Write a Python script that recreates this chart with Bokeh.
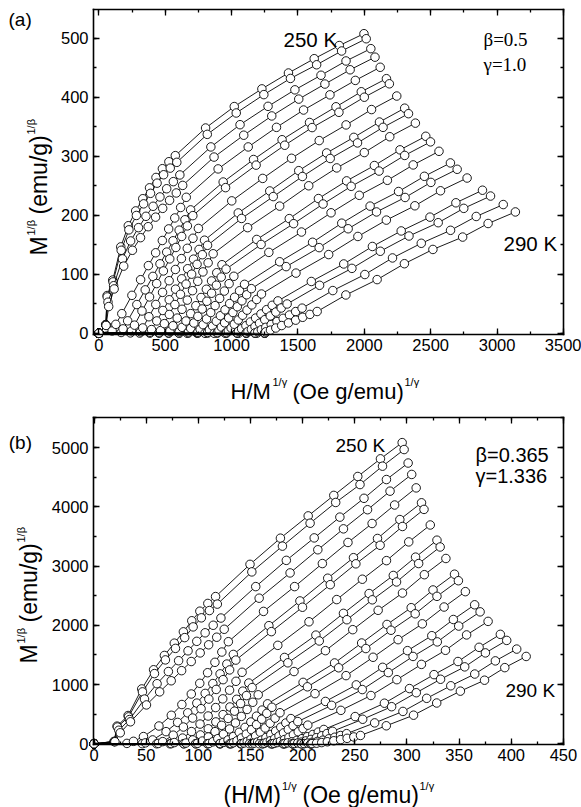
from math import pi
from bokeh.plotting import figure
from bokeh.models import Label, LinearAxis, SingleIntervalTicker, Range1d
from bokeh.layouts import column
from bokeh.embed import file_html
from bokeh.resources import INLINE
from bokeh.core.properties import value

# ---------------- data: magnetization M (emu/g) at each applied field ----------------
field_oe = [0, 200, 500, 1000, 2000, 3000, 4000, 5000, 6000, 7000, 8000, 9000,
            10000, 15000, 20000, 25000, 30000, 35000, 40000, 45000]

temperatures_k = [250, 252, 254, 256, 258, 260, 262, 264, 266, 268, 270,
                  272, 274, 276, 278, 280, 282, 284, 286, 288, 290]

m_250K = [0, 3.85, 8.00, 9.50, 12.10, 13.50, 14.40, 15.10, 15.70, 16.25, 16.70, 17.05, 17.35, 18.65, 19.60, 20.35, 21.00, 21.57, 22.08, 22.53]
m_252K = [0, 3.80, 7.85, 9.33, 11.86, 13.24, 14.13, 14.81, 15.40, 15.95, 16.39, 16.73, 17.02, 18.36, 19.32, 20.11, 20.78, 21.33, 21.87, 22.34]
m_254K = [0, 3.75, 7.26, 8.98, 11.23, 12.51, 13.38, 14.08, 14.67, 15.20, 15.65, 16.03, 16.38, 17.77, 18.80, 19.61, 20.31, 20.91, 21.48, 21.96]
m_256K = [0, 3.65, 6.73, 8.67, 10.67, 11.86, 12.73, 13.44, 14.03, 14.55, 15.01, 15.42, 15.83, 17.28, 18.32, 19.19, 19.92, 20.55, 21.13, 21.63]
m_258K = [0, 1.99, 3.90, 5.77, 8.02, 9.53, 10.71, 11.68, 12.54, 13.30, 13.98, 14.60, 15.18, 16.69, 17.77, 18.68, 19.45, 20.10, 20.70, 21.23]
m_260K = [0, 1.19, 2.74, 4.60, 6.98, 8.58, 9.82, 10.85, 11.73, 12.52, 13.22, 13.87, 14.46, 16.01, 17.16, 18.11, 18.90, 19.59, 20.23, 20.77]
m_262K = [0, 0.84, 2.03, 3.72, 6.15, 7.85, 9.18, 10.28, 11.23, 12.06, 12.81, 13.49, 14.12, 15.71, 16.88, 17.85, 18.67, 19.35, 20.00, 20.56]
m_264K = [0, 0.65, 1.59, 3.02, 5.30, 6.99, 8.33, 9.44, 10.40, 11.25, 12.00, 12.69, 13.33, 14.98, 16.20, 17.22, 18.07, 18.79, 19.47, 20.05]
m_266K = [0, 0.52, 1.30, 2.52, 4.58, 6.22, 7.54, 8.65, 9.61, 10.46, 11.21, 11.92, 12.56, 14.28, 15.53, 16.60, 17.48, 18.22, 18.92, 19.53]
m_268K = [0, 0.44, 1.10, 2.15, 4.05, 5.65, 6.98, 8.13, 9.13, 10.01, 10.81, 11.54, 12.21, 13.95, 15.22, 16.30, 17.21, 17.96, 18.68, 19.29]
m_270K = [0, 0.38, 0.95, 1.87, 3.58, 5.08, 6.38, 7.50, 8.50, 9.39, 10.20, 10.93, 11.61, 13.38, 14.68, 15.81, 16.74, 17.50, 18.25, 18.87]
m_272K = [0, 0.33, 0.83, 1.65, 3.19, 4.57, 5.78, 6.84, 7.79, 8.64, 9.42, 10.13, 10.78, 12.61, 13.94, 15.11, 16.07, 16.86, 17.63, 18.27]
m_274K = [0, 0.30, 0.74, 1.48, 2.89, 4.19, 5.36, 6.42, 7.37, 8.24, 9.03, 9.76, 10.43, 12.27, 13.63, 14.80, 15.78, 16.58, 17.36, 18.01]
m_276K = [0, 0.27, 0.67, 1.34, 2.62, 3.82, 4.93, 5.93, 6.85, 7.69, 8.46, 9.17, 9.83, 11.71, 13.10, 14.29, 15.29, 16.10, 16.89, 17.56]
m_278K = [0, 0.25, 0.61, 1.22, 2.40, 3.50, 4.52, 5.46, 6.31, 7.10, 7.82, 8.49, 9.11, 11.01, 12.42, 13.66, 14.68, 15.50, 16.31, 16.99]
m_280K = [0, 0.23, 0.56, 1.12, 2.21, 3.25, 4.22, 5.11, 5.94, 6.71, 7.42, 8.08, 8.70, 10.63, 12.05, 13.31, 14.34, 15.17, 15.99, 16.67]
m_282K = [0, 0.21, 0.52, 1.04, 2.05, 3.01, 3.92, 4.76, 5.54, 6.27, 6.94, 7.57, 8.16, 10.10, 11.55, 12.81, 13.85, 14.70, 15.54, 16.22]
m_284K = [0, 0.19, 0.48, 0.96, 1.90, 2.79, 3.61, 4.38, 5.08, 5.73, 6.33, 6.89, 7.41, 9.37, 10.84, 12.13, 13.17, 14.03, 14.87, 15.57]
m_286K = [0, 0.18, 0.45, 0.90, 1.78, 2.61, 3.40, 4.13, 4.80, 5.42, 6.00, 6.55, 7.05, 9.02, 10.49, 11.79, 12.84, 13.69, 14.55, 15.25]
m_288K = [0, 0.17, 0.42, 0.85, 1.67, 2.45, 3.18, 3.85, 4.47, 5.04, 5.57, 6.07, 6.53, 8.51, 9.98, 11.30, 12.35, 13.21, 14.07, 14.77]
m_290K = [0, 0.16, 0.40, 0.80, 1.59, 2.32, 3.00, 3.63, 4.20, 4.72, 5.21, 5.66, 6.08, 8.06, 9.54, 10.86, 11.92, 12.77, 13.64, 14.34]

magnetization = [m_250K, m_252K, m_254K, m_256K, m_258K, m_260K, m_262K,
                 m_264K, m_266K, m_268K, m_270K, m_272K, m_274K, m_276K,
                 m_278K, m_280K, m_282K, m_284K, m_286K, m_288K, m_290K]

# critical exponents used for each panel
beta_a, gamma_a = 0.5, 1.0
beta_b, gamma_b = 0.365, 1.336

# axis boxes (data limits of the drawn frame) and tick spacing
box_a = dict(x=(-40, 3500.5), y=(-2, 548.6), xstep=500, ystep=100)
box_b = dict(x=(-0.5, 450.05), y=(-12, 5508), xstep=50, ystep=1000)

SANS = "Liberation Sans"
SERIF = "Liberation Serif"


def transform(h_list, m_list, beta, gamma):
    xs, ys = [], []
    for h, m in zip(h_list, m_list):
        if h == 0 or m == 0:
            xs.append(0.0)
            ys.append(0.0)
        else:
            xs.append((h / m) ** (1.0 / gamma))
            ys.append(m ** (1.0 / beta))
    return xs, ys


def add_axis(p, side, loc, bounds, step, labels):
    ax = LinearAxis(fixed_location=loc, bounds=bounds,
                    ticker=SingleIntervalTicker(interval=step, num_minor_ticks=2))
    ax.axis_line_color = "black"
    ax.axis_line_width = 1.6
    ax.axis_line_cap = "square"
    ax.major_tick_line_color = "black"
    ax.major_tick_line_width = 1.3
    ax.minor_tick_line_color = "black"
    ax.minor_tick_line_width = 1.3
    ax.major_tick_in = 6
    ax.major_tick_out = 0
    ax.minor_tick_in = 3
    ax.minor_tick_out = 0
    ax.axis_label = None
    ax.major_label_text_font = SANS
    if labels:
        ax.major_label_text_font_size = "16.5px"
        ax.major_label_text_color = "black"
        ax.major_label_standoff = 5
    else:
        ax.major_label_text_font_size = "1px"
        ax.major_label_text_color = None
        ax.major_label_standoff = 0
    p.add_layout(ax, side)


def make_panel(width, height, xr, yr, box, beta, gamma):
    p = figure(width=width, height=height,
               x_range=Range1d(*xr), y_range=Range1d(*yr),
               x_axis_location=None, y_axis_location=None,
               output_backend="svg", toolbar_location=None,
               min_border=0, min_border_left=0, min_border_right=0,
               min_border_top=0, min_border_bottom=0)
    p.background_fill_color = "white"
    p.border_fill_color = "white"
    p.outline_line_color = None
    p.xgrid.visible = False
    p.ygrid.visible = False
    (x0, x1), (y0, y1) = box["x"], box["y"]
    add_axis(p, "below", y0, (x0, x1), box["xstep"], True)
    add_axis(p, "above", y1, (x0, x1), box["xstep"], False)
    add_axis(p, "left", x0, (y0, y1), box["ystep"], True)
    add_axis(p, "right", x1, (y0, y1), box["ystep"], False)
    for m_list in magnetization:
        xs, ys = transform(field_oe, m_list, beta, gamma)
        p.line(xs, ys, line_color="black", line_width=0.9)
        p.scatter(xs, ys, marker="circle", size=8.5, fill_color="white",
                  line_color="black", line_width=0.9)
    return p


def add_text(p, x, y, text, size, font=SANS, angle=0.0):
    p.add_layout(Label(x=x, y=y, text=text, text_font=font,
                       text_font_size=size, text_color="black",
                       text_align="left", text_baseline="alphabetic",
                       angle=angle, angle_units="rad"))


# ---------------- panel (a) ----------------
pa = make_panel(581, 406, (-740.6, 3636.1), (-123.98, 563.85), box_a, beta_a, gamma_a)

add_text(pa, -680.3, 532.5, "(a)", "19px")
add_text(pa, 1391.2, 497.8, "250 K", "20.5px")
add_text(pa, 3048.5, 152.2, "290 K", "20.5px")
add_text(pa, 2897.8, 498.6, "\u03b2=0.5", "19px", SERIF)
add_text(pa, 2897.8, 454.6, "\u03b3=1.0", "19px", SERIF)
# y label
add_text(pa, -454.3, 131.8, "M", "23px", angle=pi / 2)
add_text(pa, -514.6, 165.7, "1/\u03b2", "11px", angle=pi / 2)
add_text(pa, -454.3, 201.3, "(emu/g)", "23px", angle=pi / 2)
add_text(pa, -514.6, 336.8, "1/\u03b2", "11px", angle=pi / 2)
# x label
add_text(pa, 992.0, -98.56, "H/M", "22px")
add_text(pa, 1308.4, -83.32, "1/\u03b3", "11px")
add_text(pa, 1459.0, -98.56, "(Oe g/emu)", "22px")
add_text(pa, 2302.7, -83.32, "1/\u03b3", "11px")

# ---------------- panel (b) ----------------
pb = make_panel(581, 401, (-89.65, 467.3), (-1075.5, 5693.7), box_b, beta_b, gamma_b)

add_text(pb, -81.7, 5094.4, "(b)", "19px")
add_text(pb, 231.5, 5035.3, "250 K", "19px")
add_text(pb, 394.4, 899.5, "290 K", "19px")
add_text(pb, 365.7, 4883.4, "\u03b2=0.365", "20px")
add_text(pb, 365.7, 4520.5, "\u03b3=1.336", "20px")
# y label
add_text(pb, -62.3, 1355.3, "M", "23px", angle=pi / 2)
add_text(pb, -70.0, 1693.0, "1/\u03b2", "11px", angle=pi / 2)
add_text(pb, -62.3, 2047.4, "(emu/g)", "23px", angle=pi / 2)
add_text(pb, -70.0, 3397.9, "1/\u03b2", "11px", angle=pi / 2)
# x label
add_text(pb, 124.1, -856.1, "(H/M)", "23px")
add_text(pb, 180.2, -704.2, "1/\u03b3", "11px")
add_text(pb, 199.9, -856.1, "(Oe g/emu)", "23px")
add_text(pb, 312.0, -704.2, "1/\u03b3", "11px")

layout = column(pa, pb)
open("out.html", "w").write(file_html(layout, INLINE))
